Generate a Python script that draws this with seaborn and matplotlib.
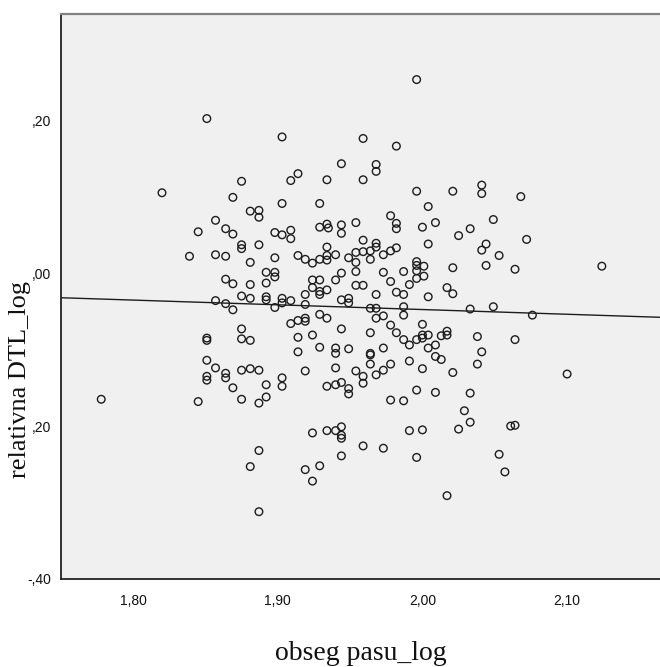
import matplotlib
matplotlib.use("Agg")
import matplotlib.pyplot as plt
import seaborn as sns
import pandas as pd

# ---- chart text / ticks ----
x_label = "obseg pasu_log"
y_label = "relativna DTL_log"
x_ticks = [1.80, 1.90, 2.00, 2.10]
x_tick_labels = ["1,80", "1,90", "2,00", "2,10"]
y_ticks = [0.20, 0.00, -0.20, -0.40]
y_tick_labels = [",20", ",00", ",20", "-,40"]

# ---- data ----
obseg_pasu_log = [
    1.851, 1.996, 1.820, 1.778,
    1.903, 1.914, 1.909, 1.934, 1.875, 1.869, 1.903, 1.929, 1.881, 1.887,
    1.887, 1.857, 1.845, 1.864, 1.869, 1.898, 1.903, 1.909, 1.909, 1.929,
    1.934, 1.935, 1.875, 1.875, 1.887, 1.839, 1.857, 1.864, 1.881, 1.898,
    1.914, 1.919, 1.924, 1.929, 1.934, 1.934, 1.934, 1.864, 1.869, 1.881,
    1.892, 1.898, 1.898, 1.892, 1.924, 1.929,
    1.959, 1.982, 1.944, 1.968, 1.968, 1.959, 1.996, 2.021, 2.041, 2.041,
    2.004, 1.978, 1.982, 1.982, 1.944, 1.944, 1.954, 2.000, 2.009, 2.033,
    2.025, 2.004, 1.959, 1.968, 1.968, 1.940, 1.949, 1.954, 1.954, 1.959,
    1.964, 1.964, 1.973, 1.978, 1.982, 2.044, 2.041, 2.044, 2.021, 1.996,
    1.996, 1.996, 2.001, 2.001, 1.996, 1.987, 1.973, 1.978, 1.991, 1.954,
    1.954, 1.944, 1.940, 1.959, 2.017,
    1.875, 1.881, 1.892, 1.892, 1.903, 1.903, 1.909, 1.898, 1.857, 1.864,
    1.869, 1.919, 1.924, 1.929, 1.929, 1.919, 1.929, 1.934, 1.909, 1.914,
    1.919, 1.919, 1.875, 1.875, 1.881, 1.851, 1.851, 1.914, 1.924, 1.929,
    1.914, 1.851, 1.857, 1.864, 1.864, 1.851, 1.851, 1.869, 1.875, 1.881,
    1.887, 1.892, 1.903, 1.903, 1.919, 1.934, 1.845, 1.875, 1.887, 1.892,
    1.924, 1.934, 1.887, 1.934,
    1.968, 1.982, 1.987, 2.004, 2.021, 1.944, 1.949, 1.949, 1.964, 1.968,
    1.968, 1.973, 1.987, 1.987, 2.033, 1.944, 1.964, 1.978, 1.982, 1.987,
    1.991, 1.996, 2.000, 2.000, 2.000, 2.004, 2.004, 2.009, 2.013, 2.017,
    2.017, 2.038, 2.041, 2.038, 2.021, 2.013, 2.009, 2.000, 1.991, 1.978,
    1.973, 1.973, 1.968, 1.964, 1.964, 1.964, 1.959, 1.959, 1.954, 1.949,
    1.940, 1.940, 1.940, 1.940, 1.944, 1.949, 1.949, 1.996, 2.009, 2.033,
    1.978, 1.987, 2.029, 2.033, 2.025, 2.000, 1.991, 1.940, 1.944, 1.944,
    1.944, 1.959, 1.973,
    2.049, 2.053, 2.068, 2.072, 2.064, 2.124,
    2.049, 2.076, 2.064, 2.100, 2.061, 2.064, 2.053,
    1.944, 1.996, 1.881, 1.919, 1.929, 1.924, 1.887, 2.017, 2.057,
]

relativna_dtl_log = [
    0.202, 0.253, 0.105, -0.165,
    0.178, 0.130, 0.121, 0.122, 0.120, 0.099, 0.091, 0.091, 0.081, 0.082,
    0.073, 0.069, 0.054, 0.058, 0.051, 0.053, 0.050, 0.056, 0.045, 0.060,
    0.064, 0.059, 0.037, 0.032, 0.037, 0.022, 0.024, 0.022, 0.014, 0.020,
    0.023, 0.018, 0.013, 0.018, 0.034, 0.023, 0.017, -0.008, -0.014, -0.015,
    0.001, 0.001, -0.005, -0.013, -0.009, -0.009,
    0.176, 0.166, 0.143, 0.142, 0.133, 0.122, 0.107, 0.107, 0.115, 0.104,
    0.087, 0.075, 0.065, 0.058, 0.063, 0.052, 0.066, 0.060, 0.066, 0.058,
    0.049, 0.038, 0.043, 0.039, 0.034, 0.024, 0.020, 0.027, 0.014, 0.028,
    0.029, 0.018, 0.024, 0.029, 0.033, 0.038, 0.030, 0.010, 0.007, 0.015,
    0.010, 0.003, 0.009, -0.004, -0.007, 0.002, 0.001, -0.011, -0.015, 0.002,
    -0.016, 0.000, -0.009, -0.016, -0.019,
    -0.030, -0.033, -0.031, -0.035, -0.033, -0.039, -0.036, -0.045, -0.036, -0.040,
    -0.048, -0.028, -0.019, -0.024, -0.028, -0.041, -0.054, -0.059, -0.066, -0.062,
    -0.059, -0.063, -0.073, -0.086, -0.088, -0.085, -0.088, -0.084, -0.081, -0.097,
    -0.103, -0.114, -0.124, -0.131, -0.137, -0.135, -0.140, -0.150, -0.127, -0.125,
    -0.127, -0.146, -0.137, -0.148, -0.128, -0.148, -0.168, -0.165, -0.170, -0.162,
    -0.209, -0.206, -0.232, -0.022,
    -0.028, -0.025, -0.028, -0.031, -0.027, -0.035, -0.033, -0.039, -0.046, -0.046,
    -0.059, -0.056, -0.044, -0.055, -0.047, -0.073, -0.078, -0.068, -0.078, -0.087,
    -0.094, -0.087, -0.067, -0.081, -0.085, -0.081, -0.098, -0.094, -0.082, -0.076,
    -0.081, -0.083, -0.103, -0.119, -0.130, -0.113, -0.109, -0.125, -0.115, -0.119,
    -0.098, -0.127, -0.133, -0.105, -0.107, -0.119, -0.135, -0.144, -0.128, -0.099,
    -0.098, -0.105, -0.124, -0.146, -0.143, -0.151, -0.158, -0.153, -0.156, -0.157,
    -0.166, -0.167, -0.180, -0.195, -0.204, -0.205, -0.206, -0.206, -0.201, -0.212,
    -0.216, -0.226, -0.229,
    0.070, 0.023, 0.100, 0.044, 0.005, 0.009,
    -0.044, -0.055, -0.087, -0.132, -0.200, -0.199, -0.237,
    -0.239, -0.241, -0.253, -0.257, -0.252, -0.272, -0.312, -0.291, -0.260,
]

df = pd.DataFrame({"x": obseg_pasu_log, "y": relativna_dtl_log})

sns.set_style("white")
plt.rcParams["font.family"] = ["Liberation Sans", "DejaVu Sans"]

W, H = 660, 667
fig = plt.figure(figsize=(W / 100, H / 100), dpi=100)
ax_left, ax_right, ax_top, ax_bottom = 61, 660, 13.5, 579
ax = fig.add_axes([ax_left / W, 1 - ax_bottom / H,
                   (ax_right - ax_left) / W, (ax_bottom - ax_top) / H])
ax.set_facecolor("#F0F0F0")
ax.set_xlim(1.7502, 2.1642)
ax.set_ylim(-0.40, 0.3394)

sns.regplot(data=df, x="x", y="y", ax=ax, ci=None, truncate=False,
            marker="o",
            scatter_kws=dict(s=30, facecolors="none", color="#1c1c1c",
                             linewidths=1.0, alpha=1.0, zorder=3),
            line_kws=dict(color="#1c1c1c", lw=1.0, zorder=2))

ax.set_xticks(x_ticks)
ax.set_xticklabels(x_tick_labels)
ax.set_yticks(y_ticks)
ax.set_yticklabels(y_tick_labels)
ax.tick_params(axis="x", direction="out", length=7, width=1.0, pad=4,
               labelsize=10, colors="#111111")
ax.tick_params(axis="y", direction="out", length=6, width=1.0, pad=1,
               labelsize=10, colors="#111111")

for side in ("left", "bottom"):
    ax.spines[side].set_color("#222222")
    ax.spines[side].set_linewidth(1.3)
ax.spines["top"].set_color("#808080")
ax.spines["top"].set_linewidth(1.6)
ax.spines["right"].set_visible(False)
ax.grid(False)

ax.set_xlabel(x_label, fontsize=20, family=["Liberation Serif"], color="#111111")
ax.xaxis.set_label_coords(0.5, (ax_bottom - 654) / (ax_bottom - ax_top))
ax.xaxis.label.set_verticalalignment("center")

ax.set_ylabel(y_label, fontsize=19, family=["Liberation Serif"], color="#111111")
ax.yaxis.set_label_coords((20 - ax_left) / (ax_right - ax_left),
                          (ax_bottom - 380) / (ax_bottom - ax_top))
ax.yaxis.label.set_verticalalignment("center")
ax.yaxis.label.set_horizontalalignment("center")

fig.savefig("out.png", dpi=100, facecolor="white")
